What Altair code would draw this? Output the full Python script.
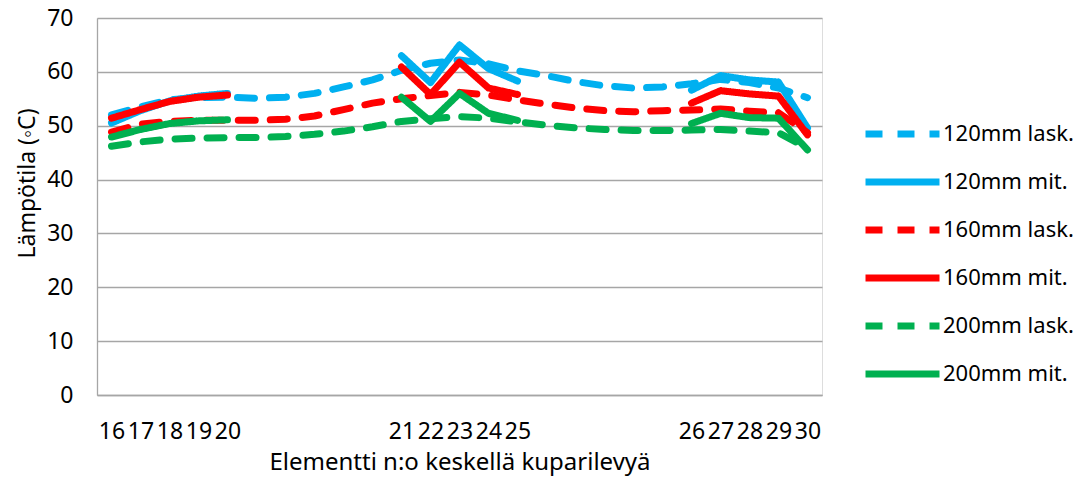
import altair as alt
import pandas as pd

# category positions along the copper plate (gaps have no label)
labels = ["16", "17", "18", "19", "20", "", "", "", "", "",
          "21", "22", "23", "24", "25", "", "", "", "", "",
          "26", "27", "28", "29", "30"]

series_names = ["120mm lask.", "120mm mit.", "160mm lask.",
                "160mm mit.", "200mm lask.", "200mm mit."]
series_colors = ["#00b0f0", "#00b0f0", "#ff0000", "#ff0000", "#00b050", "#00b050"]

N = None
b_lask = [52.0, 53.5, 54.8, 55.2, 55.3, 55.1, 55.3, 56.0, 57.2, 58.5,
          60.3, 61.6, 62.2, 61.5, 60.2, 59.3, 58.2, 57.4, 57.0, 57.2,
          57.8, 58.6, 58.0, 57.0, 55.2]
b_mit = [50.5, 52.8, 54.6, 55.5, 56.0, N, N, N, N, N,
         63.0, 58.0, 65.0, 60.6, 58.3, N, N, N, N, N,
         56.6, 59.3, 58.5, 58.1, 49.6]
r_lask = [48.8, 50.3, 50.8, 51.0, 51.0, 51.0, 51.2, 51.8, 53.0, 54.2,
          55.0, 55.6, 56.2, 55.7, 54.8, 54.0, 53.3, 52.8, 52.6, 52.8,
          52.9, 53.1, 52.7, 52.4, 48.7]
r_mit = [51.4, 53.0, 54.5, 55.3, 55.7, N, N, N, N, N,
         60.9, 55.8, 61.8, 57.0, 55.8, N, N, N, N, N,
         54.2, 56.5, 55.9, 55.5, 48.3]
g_lask = [46.2, 47.0, 47.5, 47.7, 47.8, 47.8, 48.0, 48.4, 49.0, 49.8,
          50.8, 51.3, 51.7, 51.4, 50.7, 50.1, 49.6, 49.3, 49.1, 49.1,
          49.2, 49.3, 49.0, 48.7, 45.8]
g_mit = [47.9, 49.3, 50.4, 50.9, 51.1, N, N, N, N, N,
         55.3, 50.8, 56.0, 52.3, 51.0, N, N, N, N, N,
         50.4, 52.3, 51.5, 51.4, 45.5]

all_series = [b_lask, b_mit, r_lask, r_mit, g_lask, g_mit]

rows = []
for name, vals in zip(series_names, all_series):
    for i, v in enumerate(vals):
        if v is None:
            continue
        seg = 0 if "lask" in name else i // 10
        rows.append({"pos": i, "value": v, "series": name, "seg": f"{name}-{seg}"})
df = pd.DataFrame(rows)

label_vals = [i for i, l in enumerate(labels) if l]
label_expr = "[" + ",".join(f"'{l}'" for l in labels) + "][datum.value]"

FONT = "Noto Sans"
GRID = "#a6a6a6"

chart = alt.Chart(df).mark_line(
    strokeWidth=7, strokeCap="round", strokeJoin="round"
).encode(
    x=alt.X("pos:Q",
            scale=alt.Scale(domain=[-0.5, 24.5], nice=False, zero=False),
            axis=alt.Axis(values=label_vals, labelExpr=label_expr, grid=False,
                          ticks=False, domainColor=GRID, domainWidth=1.3,
                          labelFontSize=23, labelPadding=25, labelColor="black",
                          labelFont=FONT, labelOverlap=False,
                          title="Elementti n:o keskellä kuparilevyä",
                          titleFontSize=24, titleFont=FONT, titleFontWeight="normal",
                          titleColor="black", titlePadding=7)),
    y=alt.Y("value:Q",
            scale=alt.Scale(domain=[0, 70], nice=False),
            axis=alt.Axis(values=[0, 10, 20, 30, 40, 50, 60, 70], grid=True,
                          gridColor=GRID, gridWidth=1.3, ticks=False,
                          domainColor=GRID, domainWidth=1.3,
                          labelFontSize=23, labelPadding=24, labelColor="black",
                          labelFont=FONT,
                          title="Lämpötila (◦C)", titleFontSize=23, titleFont=FONT,
                          titleFontWeight="normal", titleColor="black",
                          titleAngle=-90, titleX=-70, titleY=165,
                          titleAlign="center", titleBaseline="middle")),
    color=alt.Color("series:N",
                    scale=alt.Scale(domain=series_names, range=series_colors),
                    sort=series_names,
                    legend=alt.Legend(title=None, orient="none", legendX=765,
                                      legendY=104, symbolType="stroke",
                                      symbolSize=5476, symbolStrokeWidth=7,
                                      labelFontSize=22, labelFont=FONT,
                                      labelColor="black", labelOffset=0,
                                      clipHeight=24, rowPadding=24, padding=0)),
    strokeDash=alt.StrokeDash("series:N",
                              scale=alt.Scale(domain=series_names,
                                              range=[[17, 15], [1, 0], [17, 15],
                                                     [1, 0], [17, 15], [1, 0]]),
                              sort=series_names,
                              legend=alt.Legend(title=None, orient="none",
                                                legendX=765, legendY=104)),
    detail="seg:N",
).properties(
    width=725, height=377,
    autosize=alt.AutoSizeParams(type="none"),
    padding={"left": 89, "top": 10, "right": 253, "bottom": 81},
).configure_view(stroke=None).configure(font=FONT)

chart.save("out.html", embed_options={"renderer": "svg", "actions": False})
